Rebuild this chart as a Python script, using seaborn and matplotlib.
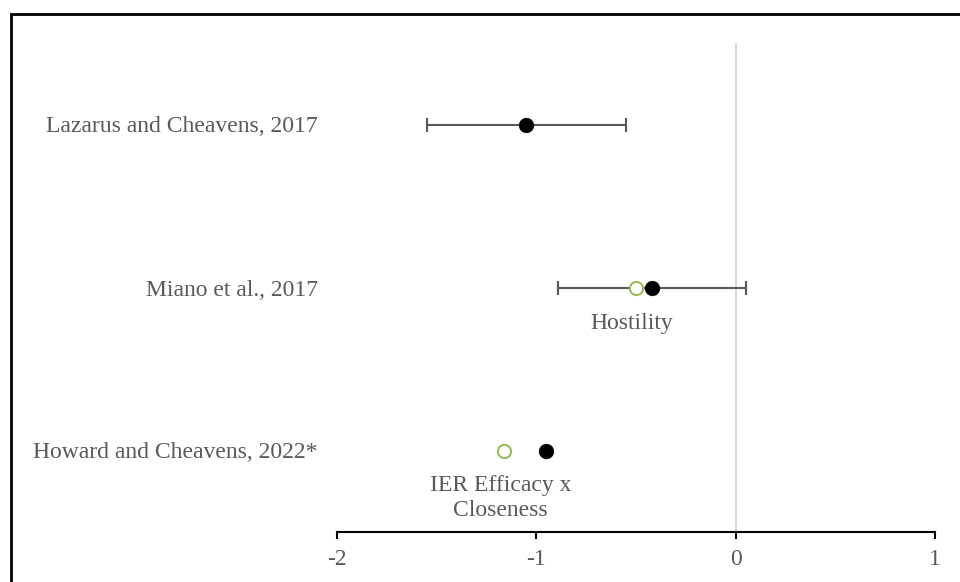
import numpy as np
import pandas as pd
import matplotlib
matplotlib.use("Agg")
import matplotlib.pyplot as plt
from matplotlib.patches import Rectangle
import seaborn as sns

# Study-level effect sizes
studies = ["Lazarus and Cheavens, 2017", "Miano et al., 2017", "Howard and Cheavens, 2022*"]
estimate = [-1.05, -0.42, -0.95]
ci_low = [-1.55, -0.89, np.nan]
ci_high = [-0.55, 0.05, np.nan]
# Secondary (moderated) estimates and their labels
alt_estimate = [np.nan, -0.50, -1.16]
alt_label = ["", "Hostility", "IER Efficacy x\nCloseness"]
x_ticks = [-2, -1, 0, 1]

TEXT = "#595959"
GREEN = "#9BBB59"
FS = 17

sns.set_theme(style="white")
plt.rcParams["font.family"] = ["Liberation Serif", "DejaVu Serif"]

df = pd.DataFrame({
    "study": studies,
    "est": estimate,
    "lo": ci_low,
    "hi": ci_high,
    "alt": alt_estimate,
    "label": alt_label,
})
df["ypos"] = np.arange(len(df))[::-1] + 1

fig = plt.figure(figsize=(9.6, 5.82), dpi=100)
ax = fig.add_axes([337 / 960, 50 / 582, 598 / 960, 489 / 582])

# zero reference line
ax.axvline(0, color="#D9D9D9", lw=1.5, zorder=0)

# confidence intervals
ci = df.dropna(subset=["lo", "hi"])
ax.errorbar(ci["est"], ci["ypos"],
            xerr=[ci["est"] - ci["lo"], ci["hi"] - ci["est"]],
            fmt="none", ecolor=TEXT, elinewidth=1.5, capsize=5, capthick=1.5, zorder=2)

# secondary estimates (open green circles)
sns.scatterplot(data=df.dropna(subset=["alt"]), x="alt", y="ypos", ax=ax,
                marker="o", s=90, facecolor="white", edgecolor=GREEN,
                linewidth=1.5, zorder=3, legend=False)
# main estimates
sns.scatterplot(data=df, x="est", y="ypos", ax=ax, marker="o", s=110,
                color="black", edgecolor="black", linewidth=0.5, zorder=4, legend=False)

for _, r in df.iterrows():
    if r["label"]:
        ax.annotate(r["label"], (r["alt"], r["ypos"]), xytext=(-3, -18),
                    textcoords="offset points", ha="center", va="top",
                    fontsize=FS, color=TEXT, linespacing=1.25)

ax.set_xlim(-2, 1)
ax.set_ylim(0.5, 3.5)
ax.set_xticks(x_ticks)
ax.set_xticklabels([str(t) for t in x_ticks], fontsize=FS, color=TEXT)
ax.set_yticks(df["ypos"])
ax.set_yticklabels(df["study"], fontsize=FS, color=TEXT)
ax.set_xlabel("")
ax.set_ylabel("")

for s in ["top", "right", "left"]:
    ax.spines[s].set_visible(False)
ax.spines["bottom"].set_color("black")
ax.spines["bottom"].set_linewidth(1.5)
ax.tick_params(axis="x", bottom=True, direction="out", length=5, width=1.5,
               color="black", pad=7)
ax.tick_params(axis="y", left=False, pad=8)

# outer frame
fig.patches.append(Rectangle((11 / 960, -0.1), 1.2, (582 - 14) / 582 + 0.1,
                             transform=fig.transFigure, fill=False,
                             edgecolor="black", lw=2, zorder=10))

fig.savefig("out.png", dpi=100)
